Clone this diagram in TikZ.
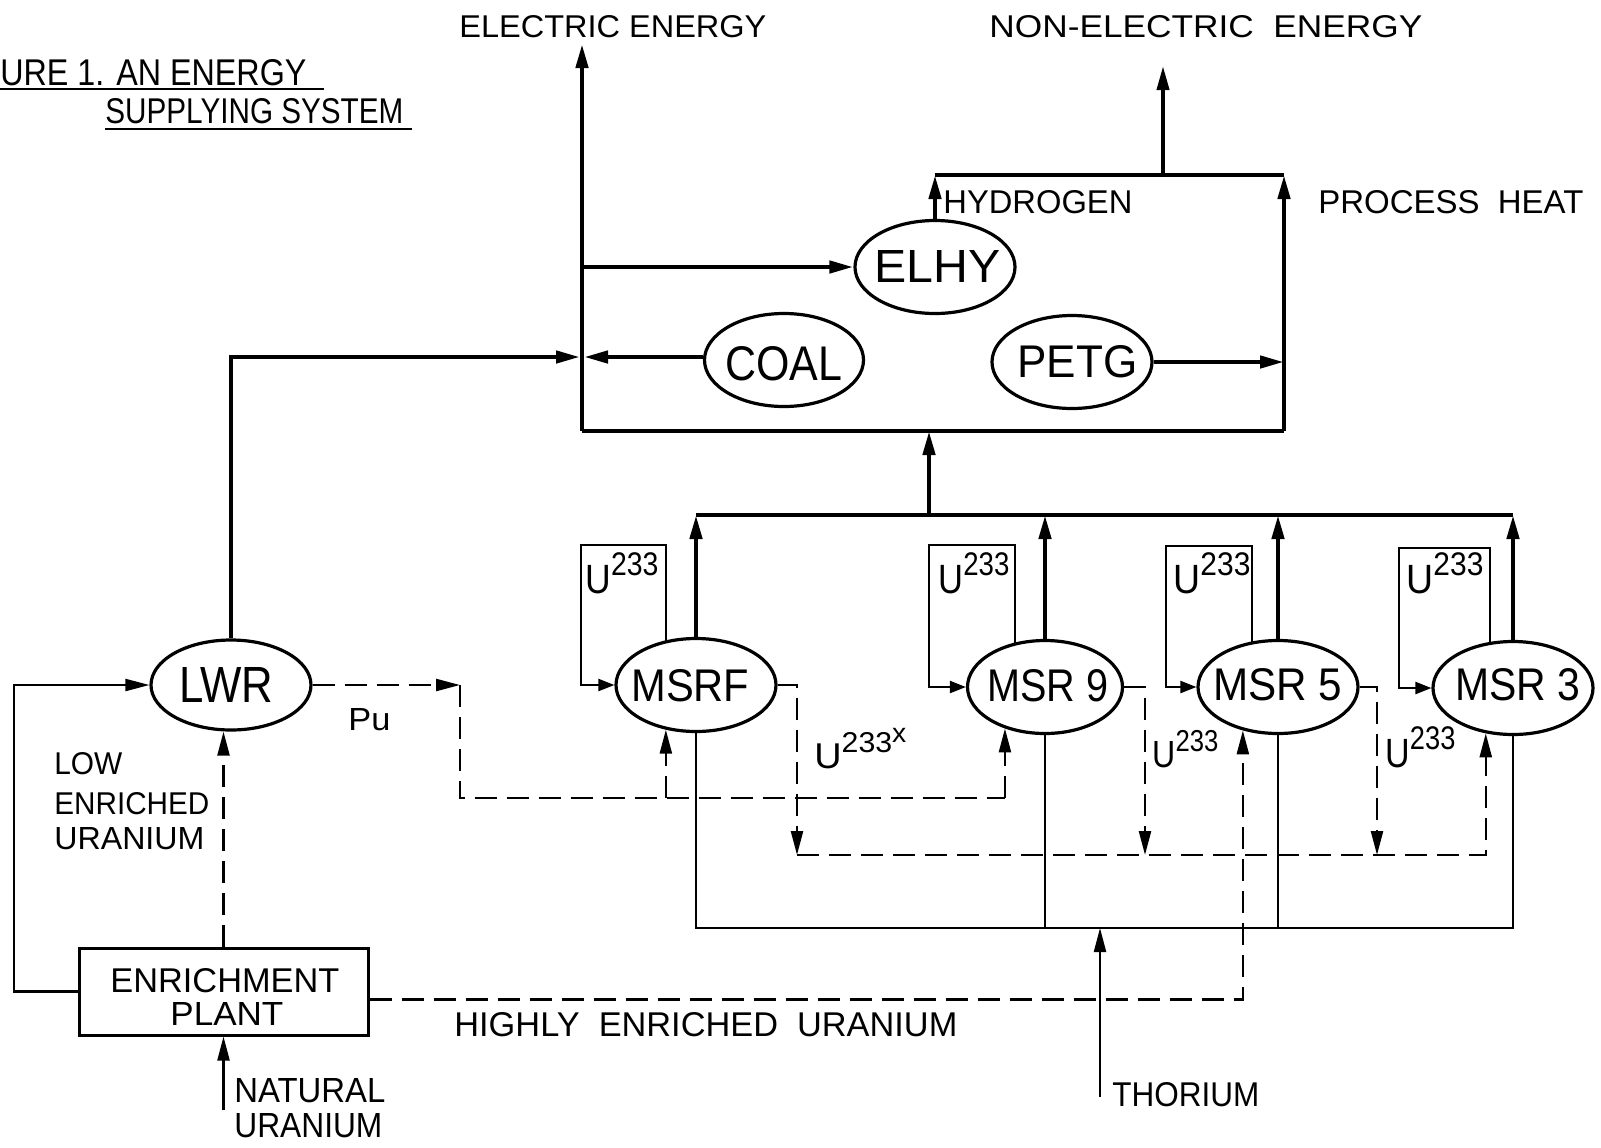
\documentclass[tikz,border=0pt]{standalone}
\usepackage{fontspec}
\setmainfont{Liberation Sans}
\usetikzlibrary{arrows.meta,shapes.geometric}
\pgfdeclarelayer{back}
\pgfdeclarelayer{bg}
\pgfsetlayers{back,bg,main}
\newcommand\rtxt[3]{\resizebox{0.5\dimexpr#1pt\relax}{0.5\dimexpr#2pt\relax}{#3}}
\newcommand\usup[1]{U\raisebox{0.42em}{\scalebox{0.8}{#1}}}
\tikzset{
 thk/.style={line width=2.2pt},
 thn/.style={line width=1.1pt},
 dsh/.style={line width=1.2pt, dash pattern=on 11pt off 5pt},
 myarr/.style={-{Triangle[length=12pt,width=6pt]}},
 sarr/.style={-{Triangle[length=8pt,width=6pt]}},
 ell/.style={draw, ellipse, line width=1.6pt, fill=white, inner sep=0pt, minimum width=80pt, minimum height=46.5pt},
 lbl/.style={inner sep=0pt, anchor=base west},
}
\begin{document}
\begin{tikzpicture}[x=0.5pt,y=-0.5pt]
\begin{pgfonlayer}{back}
\fill[white] (0,0) rectangle (1601,1147);
\end{pgfonlayer}
\useasboundingbox (0,0) rectangle (1601,1147);

% nodes
\node[ell] (elhy) at (935,267) {};
\node[ell,minimum width=79.5pt] (coal) at (784,360) {};
\node[ell] (petg) at (1072,362) {};
\node[ell,minimum height=45pt] (lwr) at (231,685) {};
\node[ell] (msrf) at (696,685) {};
\node[ell,minimum width=77.5pt] (msr9) at (1045,687) {};
\node[ell] (msr5) at (1278,687) {};
\node[ell] (msr3) at (1513,688) {};
\node[draw,line width=1.5pt,minimum width=144.5pt,minimum height=43.5pt,inner sep=0pt] (enr) at (223.5,991.5) {};

% loops (behind ellipses)
\begin{pgfonlayer}{bg}
\draw[thn,sarr] ([xshift=-15pt]msrf.center) |- (581,545) |- (msrf.west);
\draw[thn,sarr] ([xshift=-15pt]msr9.center) |- (929,545) |- (msr9.west);
\draw[thn,sarr] ([xshift=-13pt]msr5.center) |- (1166,546) |- (msr5.west);
\draw[thn,sarr] ([xshift=-11.5pt]msr3.center) |- (1399,548) |- (msr3.west);
\end{pgfonlayer}

% main box
\coordinate (ee) at (582,44);
\coordinate (bl) at (582,431);
\coordinate (br) at (1284,431);
\coordinate (tl) at (932,175);
\coordinate (tr) at (1284,175);
\coordinate (ne) at (1163,66);
\coordinate (jn) at (582,357);
\coordinate (bar) at (929,515);

\draw[thk,myarr] (bl) -- (ee);
\draw[thk] (bl) -- (br);
\draw[thk,myarr] (br) -- (tr);
\draw[thk] (tr) -- (elhy.north |- tl);
\draw[line width=1.9pt,myarr] (ne |- tl) -- (ne);
\draw[thk,myarr] (elhy.north) -- (elhy.north |- tl);
\draw[thk,myarr] (jn |- elhy.west) -- (elhy.west);
\draw[thk,myarr] (coal.west |- jn) -- ([xshift=1pt]jn);
\draw[thk,myarr] (lwr.north) |- ([xshift=-1pt]jn);
\draw[thk,myarr] (petg.east) -- (petg.east -| br);
\draw[thk,myarr] (bar) -- (bar |- bl);
\draw[thk] (msrf.north |- bar) -- (msr3.north |- bar);
\foreach \n in {msrf,msr9,msr5,msr3} \draw[thk,myarr] (\n.north) -- (\n.north |- bar);

% bottom solid lines
\coordinate (bot) at (1100,928);
\coordinate (th) at (1100,1097);
\draw[thn] (msrf.south) -- (msrf.south |- bot) -- (msr3.south |- bot) -- (msr3.south);
\draw[thn] (msr9.south) -- (msr9.south |- bot);
\draw[thn] (msr5.south) -- (msr5.south |- bot);
\draw[thn,myarr] (th) -- (bot);

% left solid loop
\coordinate (lft) at (14,991.5);
\draw[thn,myarr] (enr.west) -- (lft) |- (lwr.west);
\coordinate (nat) at (223.5,1110);
\draw[thn,myarr] (nat) -- (enr.south);

% dashed
\coordinate (pu1) at (460,685);
\coordinate (puc) at (460,798);
\draw[dsh,myarr] (lwr.east) -- (pu1);
\draw[dsh] (pu1) -- (puc) -- (puc -| msr9.226);
\draw[dsh,myarr] (puc -| msr9.226) -- (msr9.226);
\draw[dsh,myarr] (puc -| msrf.236) -- (msrf.236);
\draw[dsh,myarr] (enr.north) -- (lwr.south -| enr.north);
\draw[dsh,myarr] ([yshift=-4pt]enr.east) -| (msr5.231);
\coordinate (d1) at (797,855);
\coordinate (d2) at (1145,855);
\coordinate (d3) at (1377,855);
\draw[dsh,myarr] (msrf.east) -| (d1);
\draw[dsh,myarr] (msr9.east) -| (d2);
\draw[dsh,myarr] (msr5.east) -| (d3);
\draw[dsh,myarr] (d1) -| (msr3.239);

% title underlines
\coordinate (u1a) at (0,89); \coordinate (u1b) at (324,89);
\coordinate (u2a) at (105,129); \coordinate (u2b) at (412,129);
\draw[line width=1.3pt] (u1a) -- (u1b);
\draw[line width=1.3pt] (u2a) -- (u2b);

% texts
\node[lbl] (t1) at (0,85) {\rtxt{306}{26}{URE 1. AN ENERGY}};
\node[lbl] (t2) at (105,123) {\rtxt{298}{25}{SUPPLYING SYSTEM}};
\node[lbl] (t3) at (459,37) {\rtxt{307}{22}{ELECTRIC ENERGY}};
\node[lbl] (t4) at (989,37) {\rtxt{433}{22}{NON-ELECTRIC\ \ ENERGY}};
\node[lbl] (t5) at (943,213) {\rtxt{189}{23}{HYDROGEN}};
\node[lbl] (t6) at (1318,213) {\rtxt{265}{23}{PROCESS\ \ HEAT}};
\node[lbl] (telhy) at (874,282) {\rtxt{126}{32}{ELHY}};
\node[lbl] (tcoal) at (725,380) {\rtxt{117}{34}{COAL}};
\node[lbl] (tpetg) at (1017,377) {\rtxt{120}{32}{PETG}};
\node[lbl] (tlwr) at (179,702) {\rtxt{94}{35}{LWR}};
\node[lbl] (tmsrf) at (631,701) {\rtxt{118}{32}{MSRF}};
\node[lbl] (tmsr9) at (987,701) {\rtxt{121}{32}{MSR 9}};
\node[lbl] (tmsr5) at (1213,700) {\rtxt{129}{32}{MSR 5}};
\node[lbl] (tmsr3) at (1455,700) {\rtxt{125}{32}{MSR 3}};
\node[lbl] (ua) at (585,593) {\rtxt{73}{40}{\usup{233}}};
\node[lbl] (ub) at (938,593) {\rtxt{71}{40}{\usup{233}}};
\node[lbl] (uc) at (1173,593) {\rtxt{77}{40}{\usup{233}}};
\node[lbl] (ud) at (1406,593) {\rtxt{77}{40}{\usup{233}}};
\node[lbl] (ux) at (814,768) {\rtxt{92}{40}{U\raisebox{0.42em}{\scalebox{0.8}{233}\raisebox{0.3em}{\scalebox{0.75}{x}}}}};
\node[lbl] (ue) at (1152,767) {\rtxt{66}{37}{\usup{233}}};
\node[lbl] (uf) at (1385,767) {\rtxt{70}{40}{\usup{233}}};
\node[lbl] (tpu) at (348,730) {\rtxt{42}{22}{Pu}};
\node[lbl] (tlow1) at (54,774) {\rtxt{68}{22}{LOW}};
\node[lbl] (tlow2) at (54,814) {\rtxt{155}{22}{ENRICHED}};
\node[lbl] (tlow3) at (54,849) {\rtxt{150}{22}{URANIUM}};
\node[lbl] (tenr1) at (110,992) {\rtxt{229}{24}{ENRICHMENT}};
\node[lbl] (tenr2) at (170,1025) {\rtxt{113}{23}{PLANT}};
\node[lbl] (theu) at (454,1036) {\rtxt{503}{24}{HIGHLY\ \ ENRICHED\ \ URANIUM}};
\node[lbl] (tnat1) at (234,1102) {\rtxt{151}{24}{NATURAL}};
\node[lbl] (tnat2) at (234,1137) {\rtxt{148}{24}{URANIUM}};
\node[lbl] (tth) at (1112,1106) {\rtxt{147}{24}{THORIUM}};
\end{tikzpicture}
\end{document}
